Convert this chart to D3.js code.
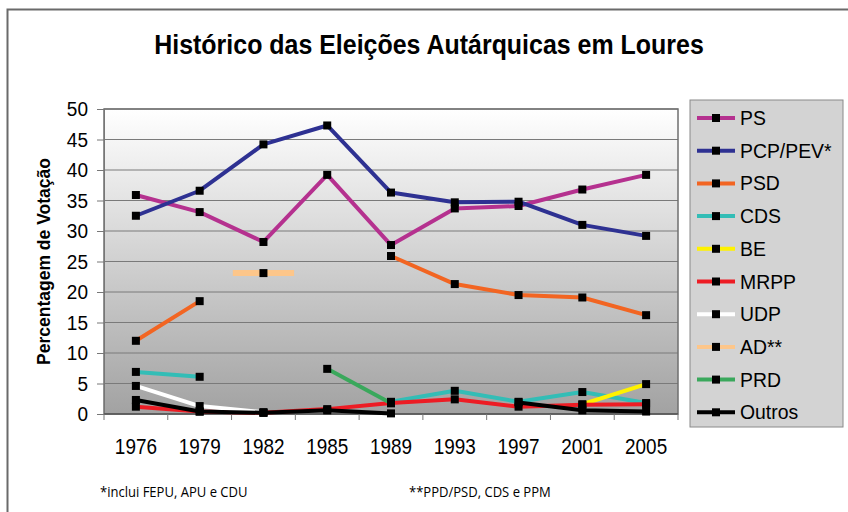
<!DOCTYPE html>
<html><head><meta charset="utf-8">
<script src="https://cdn.jsdelivr.net/npm/d3@7"></script>
<style>body{margin:0;background:#fff;} svg{display:block;}</style>
</head><body>
<svg id="c" width="848" height="512"></svg>
<script>
const years = ["1976","1979","1982","1985","1989","1993","1997","2001","2005"];
const yTicks = [0,5,10,15,20,25,30,35,40,45,50];
const seriesNames = ["PS","PCP/PEV*","PSD","CDS","BE","MRPP","UDP","AD**","PRD","Outros"];
const seriesColors = ["#b5318f","#2e3192","#f26522","#33bdb6","#fff200","#ed1c24","#ffffff","#fdc68a","#3aa85c","#000000"];
const PS     = [35.9,33.1,28.2,39.2,27.7,33.7,34.1,36.8,39.2];
const PCP    = [32.5,36.6,44.2,47.3,36.3,34.7,34.8,31.0,29.2];
const PSD    = [12.0,18.5,null,null,25.9,21.3,19.5,19.1,16.2];
const CDS    = [6.9,6.1,null,null,2.0,3.8,2.0,3.6,1.8];
const BE     = [null,null,null,null,null,null,null,1.6,4.9];
const MRPP   = [1.2,0.4,0.2,0.8,1.8,2.4,1.2,1.5,1.6];
const UDP    = [4.6,1.3,0.3,null,null,null,null,null,null];
const AD     = [null,null,23.1,null,null,null,null,null,null];
const PRD    = [null,null,null,7.4,1.75,null,null,null,null];
const Outros = [2.3,0.4,0.2,0.6,0.1,null,1.9,0.6,0.4];
const seriesValues = [PS,PCP,PSD,CDS,BE,MRPP,UDP,AD,PRD,Outros];
const title = "Histórico das Eleições Autárquicas em Loures";
const yLabel = "Percentagem de Votação";
const notes = ["*inclui FEPU, APU e CDU","**PPD/PSD, CDS e PPM"];

const svg = d3.select("#c");
const L=104, R=678, T=109, B=414;
const x = d3.scaleBand().domain(years).range([L,R]);
const y = d3.scaleLinear().domain([0,50]).range([B,T]);
const cx = d => x(d)+x.bandwidth()/2;
const FONT = "Liberation Sans, Arial, sans-serif";

// outer frame
svg.append("rect").attr("x",7.5).attr("y",9.5).attr("width",900).attr("height",600)
  .attr("fill","#fff").attr("stroke","#6a6a6a").attr("stroke-width",2);

const defs = svg.append("defs");
const g = defs.append("linearGradient").attr("id","bg").attr("x1",0).attr("y1",0).attr("x2",0).attr("y2",1);
g.append("stop").attr("offset","0%").attr("stop-color","#ffffff");
g.append("stop").attr("offset","100%").attr("stop-color","#a2a2a2");

svg.append("rect").attr("x",L).attr("y",T).attr("width",R-L).attr("height",B-T).attr("fill","url(#bg)");

// grid
svg.append("g").selectAll("line").data(yTicks.filter(t=>t>0)).join("line")
  .attr("x1",L).attr("x2",R).attr("y1",d=>y(d)).attr("y2",d=>y(d))
  .attr("stroke","#7a7a7a").attr("stroke-width",1);
svg.append("rect").attr("x",L).attr("y",T).attr("width",R-L).attr("height",B-T)
  .attr("fill","none").attr("stroke","#6f6f6f").attr("stroke-width",1.5);

// axes
const ya = svg.append("g").attr("transform",`translate(${L},0)`)
  .call(d3.axisLeft(y).tickValues(yTicks).tickSize(7).tickPadding(9));
ya.select(".domain").attr("stroke","#777");
ya.selectAll(".tick line").attr("stroke","#777");
ya.selectAll("text").attr("font-family",FONT).attr("font-size",19).attr("fill","#000")
  .attr("transform","scale(1,1.08)");

const xa = svg.append("g").attr("transform",`translate(0,${B})`);
xa.append("line").attr("x1",L).attr("x2",R).attr("y1",0).attr("y2",0).attr("stroke","#555").attr("stroke-width",1.5);
xa.selectAll("line.t").data(years.concat(["_end"])).join("line").attr("class","t")
  .attr("x1",(d,i)=>L+i*x.bandwidth()).attr("x2",(d,i)=>L+i*x.bandwidth())
  .attr("y1",0).attr("y2",6).attr("stroke","#777");
xa.selectAll("text").data(years).join("text")
  .attr("transform",d=>`translate(${cx(d)},40) scale(0.97,1.1)`).attr("text-anchor","middle")
  .attr("font-family",FONT).attr("font-size",19.5).text(d=>d);

// series
const line = d3.line().defined(d=>d.v!=null).x(d=>cx(d.year)).y(d=>y(d.v));
seriesValues.forEach((vals,si)=>{
  const pts = vals.map((v,i)=>({year:years[i],v:v,i:i}));
  const col = seriesColors[si];
  svg.append("path").datum(pts).attr("d",line).attr("fill","none")
    .attr("stroke",col).attr("stroke-width",4).attr("stroke-linejoin","round");
  pts.filter(p=>p.v!=null && (p.i===0||vals[p.i-1]==null) && (p.i===vals.length-1||vals[p.i+1]==null))
    .forEach(p=>{
      svg.append("line").attr("x1",cx(p.year)-x.bandwidth()*0.48).attr("x2",cx(p.year)+x.bandwidth()*0.48)
        .attr("y1",y(p.v)).attr("y2",y(p.v)).attr("stroke",col).attr("stroke-width",6);
    });
});
seriesValues.forEach((vals,si)=>{
  svg.append("g").selectAll("rect").data(vals.map((v,i)=>({year:years[i],v})).filter(d=>d.v!=null)).join("rect")
    .attr("x",d=>cx(d.year)-4).attr("y",d=>y(d.v)-4).attr("width",8).attr("height",8).attr("fill","#000");
});

// legend
const lg = svg.append("g");
lg.append("rect").attr("x",690).attr("y",100).attr("width",153).attr("height",327)
  .attr("fill","#d3d3d3").attr("stroke","#8a8a8a").attr("stroke-width",1);
seriesNames.forEach((n,i)=>{
  const yy = 118 + i*32.7;
  lg.append("line").attr("x1",697).attr("x2",735).attr("y1",yy).attr("y2",yy)
    .attr("stroke",seriesColors[i]).attr("stroke-width",4);
  lg.append("rect").attr("x",712).attr("y",yy-4).attr("width",8).attr("height",8).attr("fill","#000");
  lg.append("text").attr("transform",`translate(740,${yy+7}) scale(0.97,1.05)`).attr("font-family",FONT)
    .attr("font-size",20).text(n);
});

// title
svg.append("text").attr("transform","translate(429,54) scale(0.96,1.03)").attr("text-anchor","middle")
  .attr("font-family",FONT).attr("font-weight","bold").attr("font-size",26).text(title);

// y label
svg.append("text").attr("transform",`translate(50,${(T+B)/2}) rotate(-90) scale(1,1.05)`).attr("text-anchor","middle")
  .attr("font-family",FONT).attr("font-weight","bold").attr("font-size",17.5).text(yLabel);

// notes
svg.append("text").attr("transform","translate(100,497) scale(0.9,1.05)").attr("font-family","Open Sans, Liberation Sans, sans-serif")
  .attr("font-size",14.5).text(notes[0]);
svg.append("text").attr("transform","translate(409,497) scale(0.9,1.05)").attr("font-family","Open Sans, Liberation Sans, sans-serif")
  .attr("font-size",14.5).text(notes[1]);
</script>
</body></html>
